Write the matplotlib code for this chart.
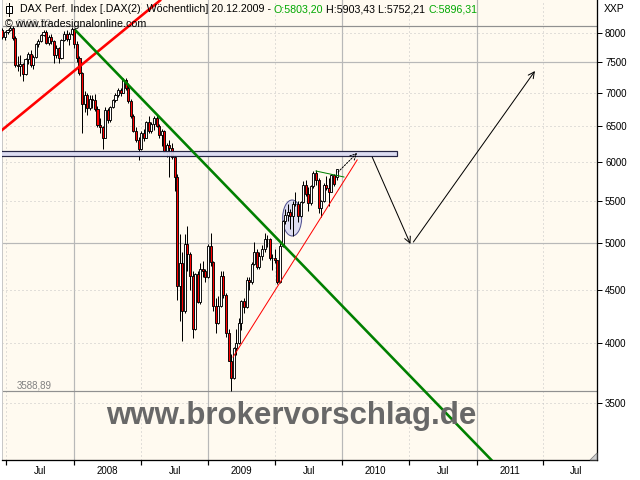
import numpy as np
import pandas as pd
import matplotlib
matplotlib.use('Agg')
import matplotlib.pyplot as plt
import matplotlib.dates as mdates
import matplotlib.transforms as mtransforms
from matplotlib.patches import Rectangle, Ellipse, Polygon
from matplotlib.ticker import FixedLocator, FixedFormatter, NullLocator, NullFormatter

# ---------------- data (weekly DAX candles) ----------------
weeks = pd.date_range('2007-06-20', periods=131, freq='7D')

opens = [8050, 7930, 8010, 8060, 8090, 7910, 7450, 7430, 7460, 7300, 7550, 7640, 7450, 7580, 7800, 7860,
         7970, 8020, 7820, 7930, 7860, 7620, 7730, 7560, 7870, 7990, 7900, 7980,
         8067, 7810, 7570, 7320, 6820, 6970, 6770, 6900, 6880, 6750, 6510, 6480, 6330, 6740, 6580, 6780,
         6880, 6970, 7040, 7000, 7200, 7080, 6870, 6650, 6430, 6300, 6170, 6400, 6330, 6550, 6420, 6520,
         6610, 6500, 6370, 6420, 6130, 6230, 6190, 6060, 5800, 4544, 4780, 4300, 4990, 4880, 4650, 4130,
         4670, 4380, 4720, 4700,
         4630, 4970, 4790, 4340, 4180, 4340, 4650, 4450, 4090, 3840, 3700, 3950, 4000, 4180, 4390, 4330,
         4600, 4580, 4770, 4900, 4740, 4860, 4940, 5050, 5050, 4840, 4840, 4810, 4580, 4970, 5250, 5330,
         5360, 5310, 5460, 5460, 5310, 5480, 5700, 5580, 5470, 5680, 5850, 5760, 5410, 5490, 5690, 5660,
         5610, 5820, 5803.20]
highs = [8090, 8040, 8080, 8130.72, 8120, 7950, 7600, 7610, 7480, 7570, 7660, 7700, 7620, 7830, 7890, 7990,
         8060, 8050, 7960, 7990, 7880, 7780, 7760, 7890, 8030, 8050, 8010, 8100,
         8080, 7860, 7600, 7330, 7030, 6990, 6960, 6970, 6980, 6790, 6620, 6500, 6780, 6760, 6800, 6900,
         7000, 7070, 7080, 7230, 7230, 7150, 6900, 6680, 6480, 6340, 6420, 6450, 6570, 6640, 6560, 6650,
         6660, 6520, 6450, 6440, 6250, 6300, 6250, 6090, 5830, 5100, 4900, 5100, 5200, 4900, 4700, 4680,
         4700, 4780, 4800, 4720,
         4990, 5110, 4800, 4420, 4440, 4700, 4700, 4470, 4130, 3900, 3960, 4130, 4230, 4400, 4420, 4640,
         4630, 4790, 5010, 4940, 4900, 4980, 5110, 5090, 5060, 4880, 4940, 4820, 5000, 5260, 5400, 5460,
         5400, 5500, 5600, 5490, 5500, 5740, 5760, 5670, 5700, 5880, 5890, 5780, 5510, 5720, 5810, 5780,
         5830, 5840, 5903.43]
lows = [7900, 7870, 7990, 8030, 7880, 7420, 7340, 7260, 7190, 7290, 7460, 7420, 7380, 7570, 7760, 7840,
        7940, 7800, 7790, 7800, 7480, 7560, 7480, 7540, 7860, 7860, 7790, 7970,
        7740, 7500, 7280, 6400, 6700, 6660, 6740, 6760, 6720, 6480, 6390, 6167, 6320, 6540, 6560, 6760,
        6860, 6930, 6950, 6990, 7050, 6840, 6620, 6410, 6270, 6020, 6160, 6280, 6320, 6400, 6390, 6440,
        6480, 6330, 6210, 6110, 6060, 5800, 6040, 5620, 4400, 4200, 4014, 4280, 4700, 4500, 4040, 4120,
        4370, 4360, 4640, 4580,
        4620, 4750, 4300, 4090, 4170, 4330, 4420, 4050, 3840, 3588.89, 3690, 3890, 3990, 4120, 4280, 4320,
        4500, 4560, 4760, 4720, 4720, 4810, 4900, 4960, 4810, 4710, 4780, 4560, 4570, 4960, 5220, 5250,
        5160, 5080, 5430, 5240, 5300, 5470, 5560, 5370, 5450, 5660, 5700, 5350, 5300, 5480, 5630, 5430,
        5600, 5680, 5752.21]
closes = [7930, 8010, 8060, 8090, 7910, 7450, 7430, 7460, 7300, 7550, 7640, 7450, 7580, 7800, 7860, 7970,
          8020, 7820, 7930, 7860, 7620, 7730, 7560, 7870, 7990, 7900, 7980, 8067,
          7810, 7570, 7320, 6820, 6970, 6770, 6900, 6880, 6750, 6510, 6480, 6330, 6740, 6580, 6780, 6880,
          6970, 7040, 7000, 7200, 7080, 6870, 6650, 6430, 6300, 6170, 6400, 6330, 6550, 6420, 6520, 6610,
          6500, 6370, 6420, 6130, 6230, 6190, 6060, 5800, 4544, 4780, 4300, 4990, 4880, 4650, 4130, 4670,
          4380, 4720, 4700, 4630,
          4970, 4790, 4340, 4180, 4340, 4650, 4450, 4090, 3840, 3700, 3950, 4000, 4180, 4390, 4330, 4600,
          4580, 4770, 4900, 4740, 4860, 4940, 5050, 5050, 4840, 4840, 4810, 4580, 4970, 5250, 5330, 5360,
          5310, 5460, 5460, 5310, 5480, 5700, 5580, 5470, 5680, 5850, 5760, 5410, 5490, 5690, 5660, 5610,
          5820, 5710, 5896.31]

price_ticks = [3500, 4000, 4500, 5000, 5500, 6000, 6500, 7000, 7500, 8000]
solid_price_grid = [5000, 7500]
period_bounds = ['2007-07-01', '2008-01-01', '2008-07-01', '2009-01-01', '2009-07-01',
                 '2010-01-01', '2010-07-01', '2011-01-01', '2011-07-01']
period_labels = ['Jul', '2008', 'Jul', '2009', 'Jul', '2010', 'Jul', '2011', 'Jul']
max_price = 8130.72
min_price = 3588.89

# drawn analysis objects (date, price)
red_trend = [('2007-06-10', 6400), ('2008-08-25', 8620)]
green_trend = [('2008-01-04', 8054), ('2011-03-10', 3007)]
thin_red_trend = [('2009-03-09', 3875), ('2010-02-10', 6022)]
thin_green_line = [('2009-10-21', 5875), ('2010-01-05', 5797)]
band = [('2007-06-01', 6075), ('2010-05-30', 6144)]
arrow_small = [('2009-12-20', 5862), ('2010-02-10', 6118)]
arrow_down = [('2010-03-23', 6061), ('2010-07-05', 4990)]
arrow_up = [('2010-07-13', 5012), ('2011-06-09', 7348)]
ellipse_center = ('2009-08-17', 5289)

# ---------------- figure ----------------
W, H = 640, 480
fig = plt.figure(figsize=(6.4, 4.8), dpi=100, facecolor='white')
ax = fig.add_axes([2 / W, 1 - 460 / H, 595 / W, 460 / H])
ax.set_facecolor('#fffaf0')
ax.set_yscale('log')
ax.set_ylim(3078, 8613)
d2n = lambda s: mdates.date2num(pd.Timestamp(s))
ax.set_xlim(d2n('2007-06-19'), d2n('2011-11-25'))

def px(v):
    return v * 72.0 / 100.0  # pixels -> points

# gridlines
bounds = [d2n(b) for b in period_bounds]
for i, b in enumerate(bounds):
    if period_labels[i] == 'Jul':
        ax.axvline(b, color='#c4c4c4', lw=px(1), ls=(0, (1, 3)), zorder=1)
    else:
        ax.axvline(b, color='#b8b8b8', lw=px(1.2), zorder=1)
for p in price_ticks:
    if p in solid_price_grid:
        ax.axhline(p, color='#b8b8b8', lw=px(1.2), zorder=1)
    else:
        ax.axhline(p, color='#c4c4c4', lw=px(1), ls=(0, (1, 3)), zorder=1)
ax.axhline(max_price, color='#909090', lw=px(1.2), zorder=1)
ax.axhline(min_price, color='#909090', lw=px(1.2), zorder=1)

# ellipse (pixel-sized, anchored at data point)
ec = (d2n(ellipse_center[0]), ellipse_center[1])
etrans = fig.dpi_scale_trans + mtransforms.ScaledTranslation(ec[0], ec[1], ax.transData)
ax.add_patch(Ellipse((0, 0), 0.19, 0.36, transform=etrans, facecolor='#dcdcf0',
                     edgecolor='#505090', lw=px(1), zorder=2))

# candles
x = mdates.date2num(weeks)
o, h, l, c = map(np.array, (opens, highs, lows, closes))
up = c >= o
ax.vlines(x, l, h, color='black', lw=px(1), zorder=3)
heights = np.maximum(np.abs(c - o), 1.0)
ax.bar(x, heights, bottom=np.minimum(o, c), width=5.5,
       color=np.where(up, 'white', '#ff0000'), edgecolor='black', linewidth=px(0.9), zorder=4)

# resistance band
b0, b1 = band
ax.add_patch(Rectangle((d2n(b0[0]), b0[1]), d2n(b1[0]) - d2n(b0[0]), b1[1] - b0[1],
                       facecolor='#dcdcf2', edgecolor='#1a1a3a', lw=px(1.2), alpha=0.95, zorder=5))

def line(pts, **kw):
    ax.plot([d2n(pts[0][0]), d2n(pts[1][0])], [pts[0][1], pts[1][1]], **kw)

line(red_trend, color='#ff0000', lw=px(2.6), zorder=6, solid_capstyle='butt')
line(green_trend, color='#008000', lw=px(2.6), zorder=6, solid_capstyle='butt')
line(thin_red_trend, color='#ff0000', lw=px(1), zorder=6)
line(thin_green_line, color='#008000', lw=px(1), zorder=6)

def arrow(pts, ls='-'):
    ax.annotate('', xy=(d2n(pts[1][0]), pts[1][1]), xytext=(d2n(pts[0][0]), pts[0][1]),
                arrowprops=dict(arrowstyle='->', color='black', lw=px(1), ls=ls,
                                shrinkA=0, shrinkB=0, mutation_scale=11), zorder=7)

arrow(arrow_small, ls=(0, (1.5, 1.5)))
arrow(arrow_down)
arrow(arrow_up)

# axes styling
ax.spines['top'].set_visible(False)
ax.spines['left'].set_color('#c8c8c8')
ax.spines['left'].set_linewidth(px(1))
ax.spines['bottom'].set_color('black')
ax.spines['bottom'].set_linewidth(px(1.3))
ax.spines['right'].set_color('black')
ax.spines['right'].set_linewidth(px(1.3))

ax.yaxis.tick_right()
ax.yaxis.set_major_locator(FixedLocator(price_ticks))
ax.yaxis.set_major_formatter(FixedFormatter([str(p) for p in price_ticks]))
ax.yaxis.set_minor_locator(NullLocator())
ax.yaxis.set_minor_formatter(NullFormatter())
ax.tick_params(axis='y', which='major', direction='out', length=px(5), width=px(1),
               pad=px(3), labelsize=7, labelfontfamily='Liberation Sans')

mids = [(bounds[i] + (bounds[i + 1] if i + 1 < len(bounds) else bounds[i] + 181)) / 2
        for i in range(len(bounds))]
ax.xaxis.set_major_locator(FixedLocator(bounds))
ax.xaxis.set_major_formatter(NullFormatter())
ax.xaxis.set_minor_locator(FixedLocator(mids))
ax.xaxis.set_minor_formatter(FixedFormatter(period_labels))
ax.tick_params(axis='x', which='major', direction='out', length=px(5), width=px(1.2))
ax.tick_params(axis='x', which='minor', length=0, pad=px(6), labelsize=7,
               labelfontfamily='Liberation Sans')

# ---------------- texts ----------------
fx = lambda v: v / W
fy = lambda v: 1 - v / H
FONT = 'Liberation Sans'

fig.text(fx(17), fy(24), '8130,72', color='#a8a8a8', fontsize=7, family=FONT, va='center', zorder=8)
fig.text(fx(5), fy(24), '\u00a9 www.tradesignalonline.com', color='black', fontsize=7.7,
         family=FONT, va='center', zorder=9)
fig.text(fx(17), fy(385), '3588,89', color='#808080', fontsize=7, family=FONT, va='center')
fig.text(fx(604), fy(9), 'XXP', color='black', fontsize=7.5, family=FONT, va='center')
fig.text(fx(291), fy(424), 'www.brokervorschlag.de', color='#686868', fontsize=22.5,
         fontweight='bold', family=FONT, ha='center', va='baseline', zorder=10)

# header with coloured parts
renderer = fig.canvas.get_renderer()
hs = 7.65
parts = [('DAX Perf. Index [.DAX(2)  W\u00f6chentlich] 20.12.2009 -', 'black'),
         ('O:5803,20', '#00a800'),
         ('H:5903,43 L:5752,21', 'black'),
         ('C:5896,31', '#00a800')]
probe1 = fig.text(0, 0, 'a a', fontsize=hs, family=FONT)
probe2 = fig.text(0, 0, 'aa', fontsize=hs, family=FONT)
space_w = probe1.get_window_extent(renderer).width - probe2.get_window_extent(renderer).width
probe1.remove(); probe2.remove()
xpos = 20.0
for s, col in parts:
    t = fig.text(fx(xpos), fy(9), s, color=col, fontsize=hs, family=FONT, va='center', ha='left', zorder=9)
    xpos += t.get_window_extent(renderer).width + space_w

# header icon
fig.add_artist(plt.Line2D([fx(9), fx(9)], [fy(3), fy(16)], color='black', lw=px(1)))
fig.add_artist(Rectangle((fx(6), fy(13)), 6 / W, 7 / H, facecolor='white', edgecolor='black',
                         lw=px(1), transform=fig.transFigure))

# resize grip
fig.add_artist(Polygon([[fx(597), fy(460)], [fx(597), fy(453)], [fx(590), fy(460)]],
                       closed=True, facecolor='#d0d0d0', edgecolor='#808080', lw=px(0.8),
                       transform=fig.transFigure))

fig.savefig('out.png', dpi=100)
